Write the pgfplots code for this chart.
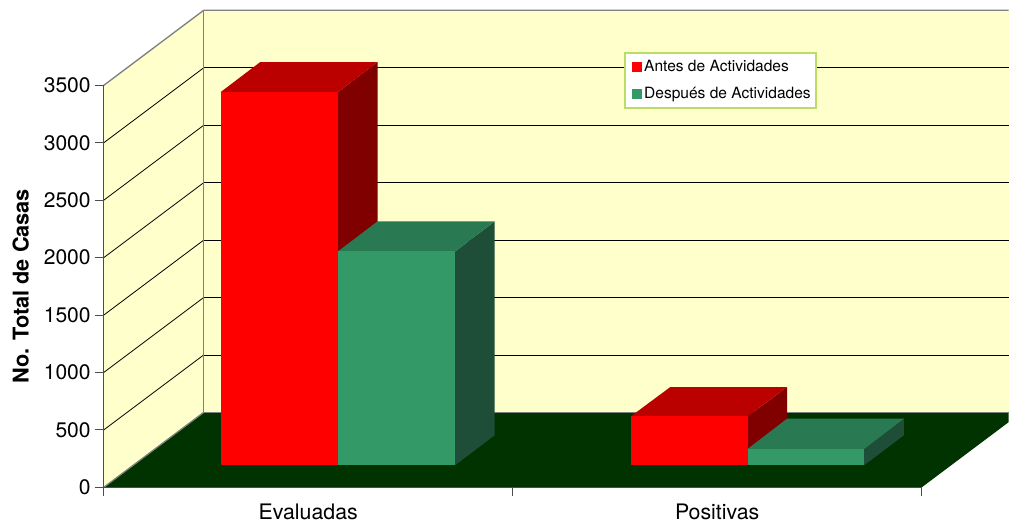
\documentclass[border=0pt]{standalone}
\usepackage{pgfplots}
\pgfplotsset{compat=1.18}
\usepackage{fontspec}
\setmainfont{TeX Gyre Heros}
\definecolor{wall}{HTML}{FFFFCC}
\definecolor{floorg}{HTML}{003300}
\definecolor{rf}{HTML}{FF0000}
\definecolor{rt}{HTML}{BB0000}
\definecolor{rs}{HTML}{800000}
\definecolor{gf}{HTML}{339966}
\definecolor{gt}{HTML}{297A52}
\definecolor{gs}{HTML}{1E4D38}
\definecolor{edgeg}{HTML}{808080}
\definecolor{legb}{HTML}{BBDD66}
\pgfplotsset{
  face/.style={fill=#1,draw=none,forget plot,mark=none},
  gridl/.style={draw=black,line width=0.6pt,forget plot,mark=none},
  wedge/.style={draw=edgeg,line width=1pt,forget plot,mark=none},
}
\begin{document}
\begin{tikzpicture}[x=0.75pt,y=0.75pt]
\path[use as bounding box] (0,0) rectangle (1009,523);
\begin{axis}[
  at={(103.7,31)},anchor=south west,
  scale only axis,width=613.5pt,height=301.5pt,
  xmin=104,xmax=922,ymin=0,ymax=3500,
  clip=false,axis on top=true,
  axis y line=left,axis x line=bottom,
  axis line style={-,draw=black!70,line width=1pt},
  tick align=outside,major tick length=6.75pt,
  tick style={draw=black!70,line width=0.8pt},
  ytick={0,500,1000,1500,2000,2500,3000,3500},
  xtick={104,513,922},xticklabels={},
  extra x ticks={308.5,717.5},
  extra x tick labels={Evaluadas,Positivas},
  extra x tick style={major tick length=0pt},
  xticklabel style={font=\fontsize{16}{18}\selectfont,text=black,anchor=base,yshift=-24pt},
  yticklabel style={font=\fontsize{15.8}{18}\selectfont,text=black,xshift=0.5pt},
  /pgf/number format/assume math mode=true,
  /pgf/number format/1000 sep={},
  every axis y label/.style={at={(axis cs:21,1750)},rotate=90,anchor=center},
  ylabel={\fontsize{16.3}{18}\selectfont\bfseries No. Total de Casas},
  legend style={at={(axis cs:624.5,3787)},anchor=north west,draw=legb,fill=white,line width=1pt,
    font=\fontsize{11.65}{13}\selectfont,inner xsep=2pt,inner ysep=3.5pt,
    row sep=6.2pt,/tikz/every even column/.style={column sep=1.5pt}},
  legend cell align=left,
  legend image code/.code={\path (0pt,0pt); \fill[#1,draw=none] (2.5pt,-3.75pt) rectangle (10pt,3.75pt);},
]
% walls and floor
\addplot[face=wall] coordinates {(104,0) (204,653) (204,4154) (104,3500)} -- cycle;
\addplot[face=wall] coordinates {(204,653) (1009,653) (1009,4154) (204,4154)} -- cycle;
\addplot[face=floorg] coordinates {(104,0) (922,0) (1009,568) (1009,653) (204,653)} -- cycle;
% grid, left wall
\addplot[gridl] coordinates {(104,500) (204,1153)};
\addplot[gridl] coordinates {(104,1000) (204,1653)};
\addplot[gridl] coordinates {(104,1500) (204,2153)};
\addplot[gridl] coordinates {(104,2000) (204,2653)};
\addplot[gridl] coordinates {(104,2500) (204,3153)};
\addplot[gridl] coordinates {(104,3000) (204,3653)};
% grid, back wall
\addplot[gridl] coordinates {(204,1153) (1009,1153)};
\addplot[gridl] coordinates {(204,1653) (1009,1653)};
\addplot[gridl] coordinates {(204,2153) (1009,2153)};
\addplot[gridl] coordinates {(204,2653) (1009,2653)};
\addplot[gridl] coordinates {(204,3153) (1009,3153)};
\addplot[gridl] coordinates {(204,3653) (1009,3653)};
% wall edges
\addplot[wedge] coordinates {(104,3500) (204,4154) (1009,4154)};
\addplot[wedge] coordinates {(204,4154) (204,653) (1009,653)};
\addplot[wedge] coordinates {(104,0) (204,653)};
% Evaluadas, Antes
\addplot[face=rs] coordinates {(338.3,193) (377.8,454) (377.8,3703) (338.3,3442)} -- cycle;
\addplot[face=rt] coordinates {(221,3442) (338.3,3442) (377.8,3703) (260.5,3703)} -- cycle;
\addplot[face=rf] coordinates {(221,193) (338.3,193) (338.3,3442) (221,3442)} -- cycle;
% Evaluadas, Despues
\addplot[face=gs] coordinates {(455.5,193) (495,454) (495,2316) (455.5,2055)} -- cycle;
\addplot[face=gt] coordinates {(338.3,2055) (455.5,2055) (495,2316) (377.8,2316)} -- cycle;
\addplot[face=gf] coordinates {(338.3,193) (455.5,193) (455.5,2055) (338.3,2055)} -- cycle;
% Positivas, Antes
\addplot[face=rs] coordinates {(747.8,193) (787.3,454) (787.3,873) (747.8,618)} -- cycle;
\addplot[face=rt] coordinates {(631,618) (747.8,618) (787.3,873) (670.5,873)} -- cycle;
\addplot[face=rf] coordinates {(631,193) (747.8,193) (747.8,618) (631,618)} -- cycle;
% Positivas, Despues
\addplot[face=gs] coordinates {(864.5,193) (904.2,454) (904.2,598) (864.5,334)} -- cycle;
\addplot[face=gt] coordinates {(747.8,334) (864.5,334) (904.2,598) (787.3,598)} -- cycle;
\addplot[face=gf] coordinates {(747.8,193) (864.5,193) (864.5,334) (747.8,334)} -- cycle;
\addlegendimage{fill=rf}
\addlegendentry{Antes de Actividades}
\addlegendimage{fill=gf}
\addlegendentry{Después de Actividades}
\end{axis}
\end{tikzpicture}
\end{document}
